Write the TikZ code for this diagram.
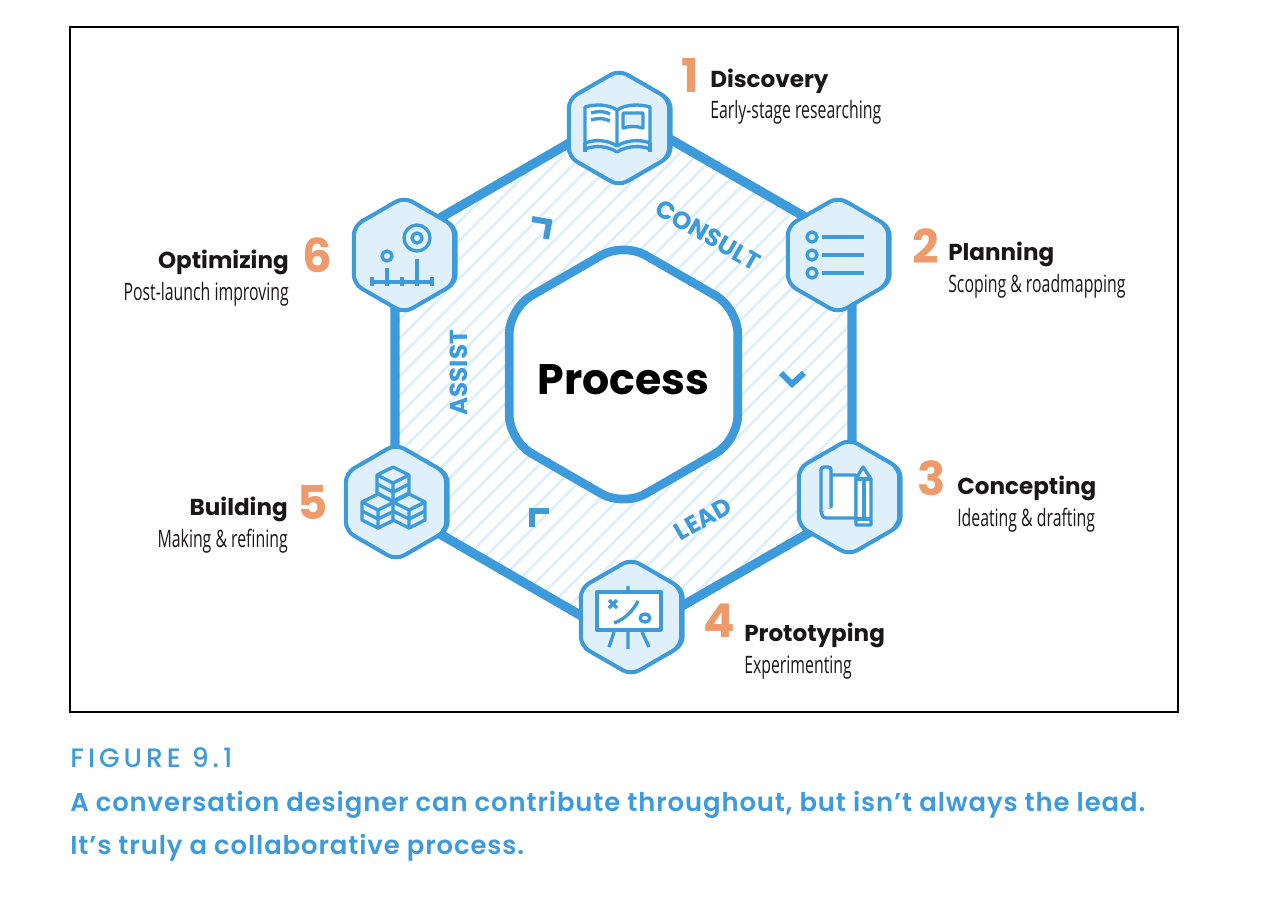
\documentclass[tikz,border=0pt]{standalone}
\usepackage{fontspec}
\setmainfont{Poppins}
\newfontfamily\narrowfont[FakeStretch=0.66]{Open Sans}
\newfontfamily\capfont[LetterSpace=3.5]{Poppins SemiBold}
\newfontfamily\figfont[LetterSpace=15]{Poppins Medium}
\usetikzlibrary{shapes.geometric,shadows}
\definecolor{ringblue}{HTML}{3D9BDB}
\definecolor{hexfill}{HTML}{DFF0FB}
\definecolor{hatchblue}{HTML}{DDEFFB}
\definecolor{numorange}{HTML}{EE9A6A}
\definecolor{inkblack}{HTML}{1A1718}
\tikzset{
  hexnode/.style={regular polygon,regular polygon sides=6,shape border rotate=30,
    minimum size=87pt,inner sep=0pt,rounded corners=7pt,draw=ringblue,fill=hexfill,line width=3pt,
    general shadow={fill=ringblue,shadow xshift=2.6pt,shadow yshift=0pt}},
  icon/.style={draw=ringblue,line width=2.5pt,line join=round},
  ringline/.style={draw=ringblue,line width=7pt,line join=round},
  numlabel/.style={anchor=base,inner sep=0pt,text=numorange,font=\fontsize{35}{35}\selectfont\bfseries},
  titlelabel/.style={inner sep=0pt,text=inkblack,font=\fontsize{17.3}{17.3}\selectfont\bfseries},
  sublabel/.style={inner sep=0pt,text=inkblack,font=\fontsize{18}{18}\narrowfont},
  bandlabel/.style={inner sep=0pt,text=ringblue,font=\fontsize{18.5}{18.5}\selectfont\bfseries},
  captext/.style={anchor=base west,inner sep=0pt,text=ringblue,font=\fontsize{19.4}{19.4}\capfont},
}
\newcommand{\isocube}[2]{%
  \begin{scope}[shift={(#1,#2)}]
    \draw[icon,fill=hexfill] (-16,-8) -- (0,-16) -- (16,-8) -- (16,10) -- (0,18) -- (-16,10) -- cycle;
    \draw[icon] (-16,-8) -- (0,0) -- (16,-8) (0,0) -- (0,18) (-16,1) -- (0,9) -- (16,1);
  \end{scope}}
\begin{document}
\begin{tikzpicture}[x=0.75pt,y=-0.75pt]
    \useasboundingbox (0,0) rectangle (1288,900);
    \draw[black,line width=1.5pt] (70,27) rectangle (1178,712);

    % ring corners
    \coordinate (vtop) at (623,112);
    \coordinate (vne) at (852,244);
    \coordinate (vse) at (852,508);
    \coordinate (vbot) at (623,640);
    \coordinate (vsw) at (395,508);
    \coordinate (vnw) at (395,244);

    \begin{scope}
      \clip (vtop) -- (vne) -- (vse) -- (vbot) -- (vsw) -- (vnw) -- cycle;
      \foreach \k in {0,...,50}
        \draw[hatchblue,line width=1.9pt] (360,{150+19*\k}) -- ++(700,-700);
    \end{scope}
    \draw[ringline] (vtop) -- (vne) -- (vse) -- (vbot) -- (vsw) -- (vnw) -- cycle;

    \node[regular polygon,regular polygon sides=6,shape border rotate=30,minimum size=198pt,
      inner sep=0pt,rounded corners=19pt,draw=ringblue,fill=white,line width=6.5pt,
      font=\fontsize{32}{32}\selectfont\bfseries] (process) at (623.5,374.5)
      {\makebox[0pt]{\raisebox{-15pt}[0pt][0pt]{Process}}};

    \node[hexnode] (discovery) at (619,128) {};
    \node[hexnode] (planning) at (838,255) {};
    \node[hexnode] (concepting) at (849,497) {};
    \node[hexnode] (prototyping) at (631,617) {};
    \node[hexnode] (building) at (396,502) {};
    \node[hexnode] (optimizing) at (404,255) {};

    % book
    \begin{scope}[shift={(discovery.center)}]
      \draw[icon,fill=white] (-2,-18) .. controls (-11,-24) and (-24,-24) .. (-34,-21) -- (-34,15)
        .. controls (-24,11) and (-11,12) .. (-2,18) .. controls (7,12) and (21,11) .. (31,15)
        -- (31,-21) .. controls (21,-24) and (7,-24) .. (-2,-18) -- (-2,18);
      \draw[icon] (-34,15) -- (-34,24) (31,15) -- (31,24);
      \draw[icon] (-34,21) .. controls (-24,17) and (-11,18) .. (-2,24) .. controls (7,18) and (21,17) .. (31,21);
      \draw[icon] (-28,-15) .. controls (-22,-17) and (-14,-17) .. (-9,-14);
      \draw[icon] (-28,-8) .. controls (-22,-10) and (-14,-10) .. (-9,-7);
      \draw[icon,fill=hexfill] (4,-15) -- (24,-15) -- (24,0) .. controls (17,-2) and (10,-2) .. (4,0) -- cycle;
    \end{scope}

    % list
    \begin{scope}[shift={(planning.center)}]
      \foreach \y in {-18,0,18} {
        \draw[icon] (-26,\y) circle (5);
        \draw[icon] (-16,\y) -- (26,\y);
      }
    \end{scope}

    % scroll and pencil
    \begin{scope}[shift={(concepting.center)}]
      \draw[icon,fill=white] (-18,-22) -- (7,-22) -- (7,21) -- (-22,21)
        .. controls (-30,21) and (-29,10) .. (-22,10) -- (-18,10) -- cycle;
      \draw[icon,fill=hexfill,rounded corners=2pt] (-18,10) -- (-18,-30) -- (-28,-30) -- (-28,15);
      \draw[icon,fill=white] (7,-18) -- (14,-30) -- (22,-18) -- (22,28) -- (7,28) -- cycle;
      \draw[icon] (7,-18) -- (22,-18) (15,-18) -- (15,22) (7,22) -- (22,22);
    \end{scope}

    % board
    \begin{scope}[shift={(prototyping.center)}]
      \draw[icon,fill=white] (-34,-25) rectangle (30,13);
      \draw[icon] (-3,-31) -- (-3,-25) (-3,13) -- (-3,32) (-17,15) -- (-22,30) (11,15) -- (18,30);
      \draw[icon] (-22,-17) -- (-14,-9) (-22,-9) -- (-14,-17);
      \draw[icon] (7,-16) .. controls (2,-6) and (-6,2) .. (-17,6);
      \draw[icon] (14,1) ellipse (5 and 4);
    \end{scope}

    % cubes
    \begin{scope}[shift={(building.center)}]
      \isocube{-3}{-19}
      \isocube{-18}{8}
      \isocube{13}{8}
    \end{scope}

    % target
    \begin{scope}[shift={(optimizing.center)}]
      \draw[icon] (13,-17) circle (13);
      \draw[icon] (13,-17) circle (5);
      \draw[icon] (-17,1) circle (5);
      \draw[icon] (-32,27) -- (28,27);
      \draw[icon] (-32,22) -- (-32,31) (28,22) -- (28,31) (-17,13) -- (-17,31) (-2,22) -- (-2,31) (13,4) -- (13,31);
    \end{scope}

    \node[bandlabel,rotate=-30] (consult) at (708,235) {CONSULT};
    \node[bandlabel,rotate=30] (lead) at (703,519) {LEAD};
    \node[bandlabel,rotate=90] (assist) at (459,373) {ASSIST};

    \draw[ringblue,line width=4.5pt] (532,219) -- (549,222) -- (546,239);
    \draw[ringblue,line width=4.5pt] (532,527) -- (532,511) -- (549,511);
    \draw[ringblue,line width=4.5pt] (781,373) -- (792,384) -- (804,373);

    % stage labels
    \node[numlabel] (numa) at (690,92) {1};
    \node[titlelabel,anchor=base west] (titlea) at (710,87) {Discovery};
    \node[sublabel,anchor=base west] (suba) at (710,118) {Early-stage researching};
    \node[numlabel] (numb) at (926,263) {2};
    \node[titlelabel,anchor=base west] (titleb) at (948,260) {Planning};
    \node[sublabel,anchor=base west] (subb) at (948,292) {Scoping \& roadmapping};
    \node[numlabel] (numc) at (932,495) {3};
    \node[titlelabel,anchor=base west] (titlec) at (957,494) {Concepting};
    \node[sublabel,anchor=base west] (subc) at (957,526) {Ideating \& drafting};
    \node[numlabel] (numd) at (719,637) {4};
    \node[titlelabel,anchor=base west] (titled) at (744,641) {Prototyping};
    \node[sublabel,anchor=base west] (subd) at (744,673) {Experimenting};
    \node[numlabel] (nume) at (313,519) {5};
    \node[titlelabel,anchor=base east] (titlee) at (288,515) {Building};
    \node[sublabel,anchor=base east] (sube) at (288,547) {Making \& refining};
    \node[numlabel] (numf) at (317,272) {6};
    \node[titlelabel,anchor=base east] (titlef) at (289,268) {Optimizing};
    \node[sublabel,anchor=base east] (subf) at (289,300) {Post-launch improving};

    % caption
    \node[captext,font=\fontsize{20}{20}\figfont] (figno) at (70,767) {FIGURE 9.1};
    \node[captext] (capa) at (70,811) {A conversation designer can contribute throughout, but isn’t always the lead.};
    \node[captext] (capb) at (70,854) {It’s truly a collaborative process.};
\end{tikzpicture}
\end{document}
